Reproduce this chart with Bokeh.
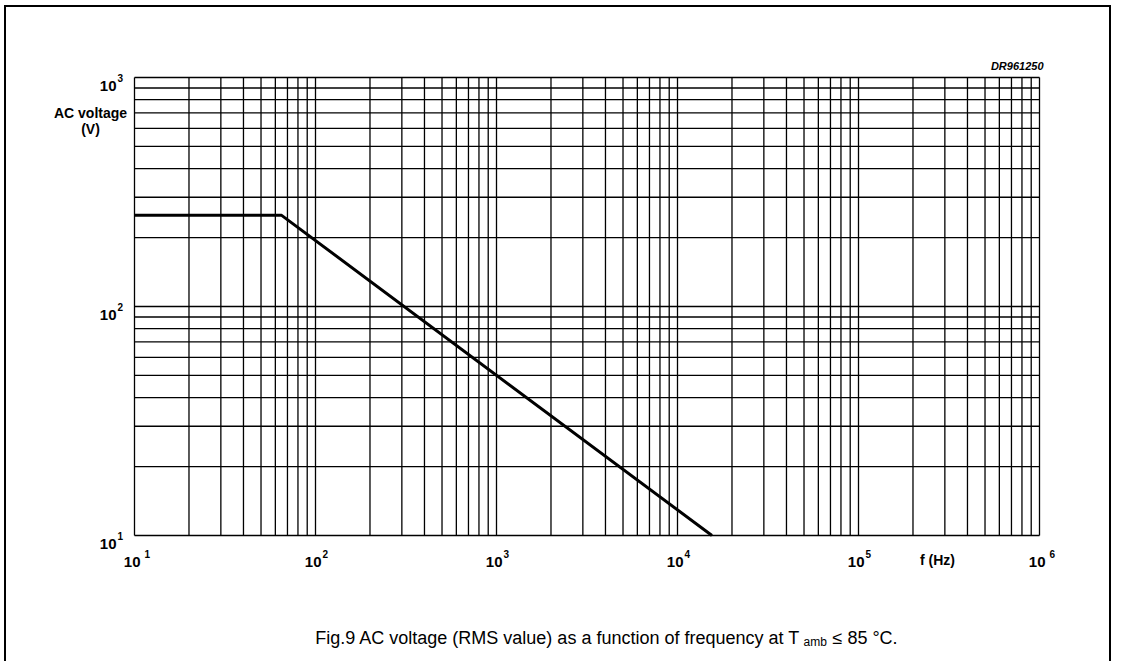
from bokeh.plotting import figure
from bokeh.models import Range1d
from bokeh.core.properties import value
from bokeh.embed import file_html
from bokeh.resources import INLINE
import math

# ---- data ----
freq_hz = [10, 65, 15500]
ac_voltage_v = [250, 250, 10]

x_decades = [10, 100, 1000, 10000, 100000, 1000000]
x_exponents = ["1", "2", "3", "4", "5", "6"]
y_decades = [10, 100, 1000]
y_exponents = ["1", "2", "3"]
mantissas = [1, 2, 3, 4, 5, 6, 7, 8, 9]

x_grid = [m * d for d in x_decades[:-1] for m in mantissas] + [x_decades[-1]]
y_grid = [m * d for d in y_decades[:-1] for m in mantissas] + [y_decades[-1]]

FONT = "Liberation Sans"

# ---- geometry: canvas size and where the chart grid sits inside it ----
W, H = 1107, 656
GL, GR, GT, GB = 128, 1033, 70, 528          # grid box in canvas pixels
xmin, xmax = x_decades[0], x_decades[-1]
ymin, ymax = y_decades[0], y_decades[-1]
px_dec_x = (GR - GL) / (math.log10(xmax) - math.log10(xmin))
px_dec_y = (GB - GT) / (math.log10(ymax) - math.log10(ymin))
x_lo = 10 ** (math.log10(xmin) - GL / px_dec_x)
x_hi = 10 ** (math.log10(xmax) + (W - GR) / px_dec_x)
y_lo = 10 ** (math.log10(ymin) - (H - GB) / px_dec_y)
y_hi = 10 ** (math.log10(ymax) + GT / px_dec_y)

p = figure(
    width=W, height=H,
    x_axis_type="log", y_axis_type="log",
    x_range=Range1d(x_lo, x_hi), y_range=Range1d(y_lo, y_hi),
    x_axis_location=None, y_axis_location=None,
    toolbar_location=None, output_backend="svg",
    min_border=0,
)
p.styles = {
    "margin-left": "4px",
    "margin-top": "5px",
    "border-left": "2px solid #000",
    "border-top": "2px solid #000",
    "border-right": "2px solid #000",
}
p.background_fill_color = "white"
p.border_fill_color = "white"
p.outline_line_color = None
p.xgrid.visible = False
p.ygrid.visible = False

# grid lines (vertical and horizontal), bounded to the chart box
p.segment(x0=x_grid, y0=[ymin] * len(x_grid), x1=x_grid, y1=[ymax] * len(x_grid),
          line_color="black", line_width=1.3)
p.segment(x0=[xmin] * len(y_grid), y0=y_grid, x1=[xmax] * len(y_grid), y1=y_grid,
          line_color="black", line_width=1.3)

# the curve
p.line(freq_hz, ac_voltage_v, line_color="black", line_width=3)

# ---- x tick labels ----
p.text(x=x_decades, y=[ymin] * 6, text=["10"] * 6, x_offset=6, y_offset=26,
       text_align="right", text_baseline="alphabetic",
       text_font=value(FONT), text_font_size="15px", text_font_style="bold",
       text_color="black")
p.text(x=x_decades, y=[ymin] * 6, text=x_exponents, x_offset=[10, 7, 7, 7, 7, 10],
       y_offset=18, text_align="left", text_baseline="alphabetic",
       text_font=value(FONT), text_font_size="10px", text_font_style="bold",
       text_color="black")

# ---- y tick labels ----
p.text(x=[xmin] * 3, y=y_decades, text=["10"] * 3, x_offset=-18, y_offset=8,
       text_align="right", text_baseline="alphabetic",
       text_font=value(FONT), text_font_size="15px", text_font_style="bold",
       text_color="black")
p.text(x=[xmin] * 3, y=y_decades, text=y_exponents, x_offset=-17, y_offset=0,
       text_align="left", text_baseline="alphabetic",
       text_font=value(FONT), text_font_size="10px", text_font_style="bold",
       text_color="black")

# ---- axis titles ----
p.text(x=[xmin, xmin], y=[ymax, ymax], text=["AC voltage", "(V)"], x_offset=-44,
       y_offset=[35, 51], text_align="center", text_baseline="alphabetic",
       text_font=value(FONT), text_font_size="14px", text_font_style="bold",
       text_color="black")
p.text(x=[10 ** 5.436], y=[ymin], text=["f (Hz)"], y_offset=24,
       text_align="center", text_baseline="alphabetic",
       text_font=value(FONT), text_font_size="14px", text_font_style="bold",
       text_color="black")

# ---- figure id ----
p.text(x=[xmax], y=[ymax], text=["DR961250"], x_offset=4, y_offset=-12,
       text_align="right", text_baseline="alphabetic",
       text_font=value(FONT), text_font_size="11px", text_font_style="bold italic",
       text_color="black")

# ---- caption ----
p.text(x=[1e4], y=[ymin], text=["Fig.9  AC voltage (RMS value) as a function of frequency at T"],
       x_offset=128, y_offset=102, text_align="right", text_baseline="alphabetic",
       text_font=value(FONT), text_font_size="18px", text_color="black")
p.text(x=[1e4], y=[ymin], text=["amb"], x_offset=126, y_offset=106,
       text_align="left", text_baseline="alphabetic",
       text_font=value(FONT), text_font_size="12px", text_color="black")
p.text(x=[1e4], y=[ymin], text=["\u2264 85 \u00b0C."], x_offset=155, y_offset=102,
       text_align="left", text_baseline="alphabetic",
       text_font=value(FONT), text_font_size="18px", text_color="black")

open("out.html", "w").write(file_html(p, INLINE))
